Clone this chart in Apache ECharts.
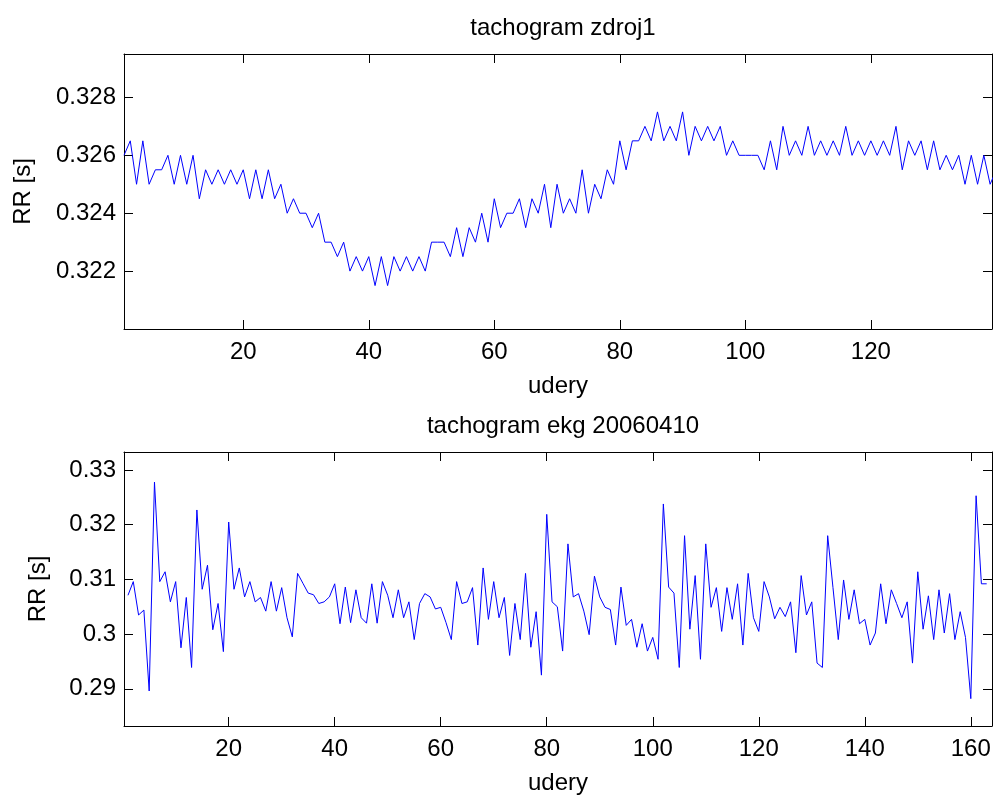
<!DOCTYPE html>
<html>
<head>
<meta charset="utf-8">
<script src="https://cdn.jsdelivr.net/npm/echarts@6/dist/echarts.min.js"></script>
<style>
html,body{margin:0;padding:0;background:#fff;}
#chart{width:996px;height:796px;}
</style>
</head>
<body>
<div id="chart"></div>
<script>
// ---- data ----
const titleTop = 'tachogram zdroj1';
const titleBottom = 'tachogram ekg 20060410';
const xName = 'udery';
const yName = 'RR [s]';

const topRR = [
0.326,0.3265,0.325,0.3265,0.325,0.3255,0.3255,0.326,0.325,0.326,
0.325,0.326,0.3245,0.3255,0.325,0.3255,0.325,0.3255,0.325,0.3255,
0.3245,0.3255,0.3245,0.3255,0.3245,0.325,0.324,0.3245,0.324,0.324,
0.3235,0.324,0.323,0.323,0.3225,0.323,0.322,0.3225,0.322,0.3225,
0.3215,0.3225,0.3215,0.3225,0.322,0.3225,0.322,0.3225,0.322,0.323,
0.323,0.323,0.3225,0.3235,0.3225,0.3235,0.323,0.324,0.323,0.3245,
0.3235,0.324,0.324,0.3245,0.3235,0.3245,0.324,0.325,0.3235,0.325,
0.324,0.3245,0.324,0.3255,0.324,0.325,0.3245,0.3255,0.325,0.3265,
0.3255,0.3265,0.3265,0.327,0.3265,0.3275,0.3265,0.327,0.3265,0.3275,
0.326,0.327,0.3265,0.327,0.3265,0.327,0.326,0.3265,0.326,0.326,
0.326,0.326,0.3255,0.3265,0.3255,0.327,0.326,0.3265,0.326,0.327,
0.326,0.3265,0.326,0.3265,0.326,0.327,0.326,0.3265,0.326,0.3265,
0.326,0.3265,0.326,0.327,0.3255,0.3265,0.326,0.3265,0.3255,0.3265,
0.3255,0.326,0.3255,0.326,0.325,0.326,0.325,0.326,0.325,0.3255
];

const bottomRR = [
0.3071,0.3096,0.3035,0.3044,0.2896,0.3278,0.3096,0.3114,0.3059,0.3096,
0.2975,0.3067,0.2939,0.3227,0.3082,0.3126,0.3008,0.3056,0.2968,0.3205,
0.3082,0.3121,0.3068,0.3096,0.3059,0.3067,0.3042,0.3096,0.3042,0.3085,
0.3030,0.2995,0.3111,0.3093,0.3075,0.3072,0.3056,0.3059,0.3068,0.3092,
0.3019,0.3086,0.3021,0.3081,0.3030,0.3020,0.3092,0.3020,0.3096,0.3071,
0.3030,0.3081,0.3030,0.3059,0.2990,0.3056,0.3074,0.3068,0.3046,0.3049,
0.3021,0.2990,0.3096,0.3056,0.3059,0.3085,0.2980,0.3121,0.3027,0.3096,
0.3030,0.3067,0.2961,0.3056,0.2990,0.3111,0.2976,0.3041,0.2925,0.3219,
0.3059,0.3050,0.2969,0.3165,0.3068,0.3074,0.3042,0.2999,0.3106,0.3068,
0.3049,0.3045,0.2980,0.3086,0.3016,0.3027,0.2976,0.3019,0.2969,0.2994,
0.2954,0.3238,0.3086,0.3075,0.2939,0.3180,0.3009,0.3107,0.2954,0.3165,
0.3049,0.3085,0.3005,0.3085,0.3027,0.3092,0.2980,0.3111,0.3030,0.3005,
0.3096,0.3068,0.3028,0.3049,0.3032,0.3059,0.2966,0.3107,0.3035,0.3059,
0.2947,0.2939,0.3180,0.3085,0.2990,0.3099,0.3027,0.3081,0.3019,0.3027,
0.2980,0.3002,0.3092,0.3019,0.3081,0.3056,0.3030,0.3059,0.2947,0.3114,
0.3009,0.3070,0.2990,0.3081,0.3002,0.3074,0.2990,0.3041,0.2994,0.2882,
0.3253,0.3092,0.3092
];

const topXTicks = [20, 40, 60, 80, 100, 120];
const topYTicks = [0.322, 0.324, 0.326, 0.328];
const bottomXTicks = [20, 40, 60, 80, 100, 120, 140, 160];
const bottomYTicks = [0.29, 0.30, 0.31, 0.32, 0.33];

// ---- chart ----
const FONT = "'Liberation Sans', Arial, Helvetica, sans-serif";
const FS = 24;

function pairs(arr){ return arr.map((v,i)=>[i+1, v]); }

function xAxis(grid, min, max, ticks, main){
  return {
    type:'value', gridIndex:grid, min:min, max:max,
    position: main ? 'bottom' : 'top',
    name: main ? xName : '', nameLocation:'middle', nameGap:45,
    nameTextStyle:{color:'#000', fontSize:FS, fontFamily:FONT},
    axisLine:{show:true, onZero:false, lineStyle:{color:'#000', width:1}},
    axisTick:{show:true, inside:true, length:9, customValues:ticks, lineStyle:{color:'#000'}},
    axisLabel:{show:main, customValues:ticks, margin:11, color:'#000', fontSize:FS, fontFamily:FONT},
    splitLine:{show:false}
  };
}
function yAxis(grid, min, max, ticks, main, fmt, gap){
  return {
    type:'value', gridIndex:grid, min:min, max:max,
    position: main ? 'left' : 'right',
    name: main ? yName : '', nameLocation:'middle', nameGap:gap, nameRotate:90,
    nameTextStyle:{color:'#000', fontSize:FS, fontFamily:FONT},
    axisLine:{show:true, onZero:false, lineStyle:{color:'#000', width:1}},
    axisTick:{show:true, inside:true, length:9, customValues:ticks, lineStyle:{color:'#000'}},
    axisLabel:{show:main, customValues:ticks, margin:8, color:'#000', fontSize:FS, fontFamily:FONT, formatter:fmt},
    splitLine:{show:false}
  };
}

const fmtTop = v => v.toFixed(3);
const fmtBottom = v => String(parseFloat(v.toFixed(2)));

const chart = echarts.init(document.getElementById('chart'), null, {renderer:'canvas'});
chart.setOption({
  animation:false,
  backgroundColor:'#fff',
  title:[
    {text:titleTop, left:558, top:11, textAlign:'center',
     textStyle:{fontSize:FS, fontWeight:'normal', color:'#000', fontFamily:FONT}},
    {text:titleBottom, left:558, top:409, textAlign:'center',
     textStyle:{fontSize:FS, fontWeight:'normal', color:'#000', fontFamily:FONT}}
  ],
  grid:[
    {left:124, top:54, width:868, height:275},
    {left:124, top:452, width:868, height:276}
  ],
  xAxis:[
    xAxis(0, 1, 139.3, topXTicks, true),
    xAxis(0, 1, 139.3, topXTicks, false),
    xAxis(1, 0.25, 164, bottomXTicks, true),
    xAxis(1, 0.25, 164, bottomXTicks, false)
  ],
  yAxis:[
    yAxis(0, 0.32, 0.3295, topYTicks, true, fmtTop, 89),
    yAxis(0, 0.32, 0.3295, topYTicks, false, fmtTop, 0),
    yAxis(1, 0.2832, 0.3333, bottomYTicks, true, fmtBottom, 74),
    yAxis(1, 0.2832, 0.3333, bottomYTicks, false, fmtBottom, 0)
  ],
  series:[
    {type:'line', xAxisIndex:0, yAxisIndex:0, data:pairs(topRR), showSymbol:false, symbol:'none',
     clip:true, lineStyle:{color:'#0000ff', width:1}},
    {type:'line', xAxisIndex:2, yAxisIndex:2, data:pairs(bottomRR), showSymbol:false, symbol:'none',
     clip:true, lineStyle:{color:'#0000ff', width:1}}
  ]
});
</script>
</body>
</html>
